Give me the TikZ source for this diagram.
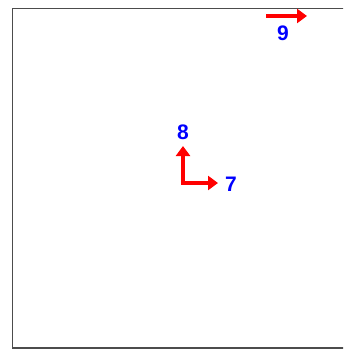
\documentclass[tikz,border=0pt]{standalone}
\usepackage{fontspec}
\setmainfont{Liberation Sans}
\usetikzlibrary{arrows.meta}
\begin{document}
\begin{tikzpicture}[x=1pt,y=-1pt,
  vec/.style={draw=red, line width=4.5pt, -{Triangle[width=14pt,length=10pt]}},
  lab/.style={text=blue, font=\bfseries\fontsize{21}{21}\selectfont, inner sep=0pt}]
\useasboundingbox (0,0) rectangle (343,350);
\clip (0,0) rectangle (343,350);
\fill[white] (0,0) rectangle (343,350);
\draw[draw=black!70, line width=1.5pt] (12.5,8.5) rectangle (350,348);
\coordinate (o) at (183,183);
\coordinate (a7) at (218,183);
\coordinate (a8) at (183,146);
\coordinate (s9) at (266,16);
\coordinate (a9) at (307,16);
\draw[vec] ([yshift=2.25pt]o) -- (a8);
\draw[vec] ([xshift=-2.25pt]o) -- (a7);
\draw[vec] (s9) -- (a9);
\node[lab] (l7) at (231,184) {7};
\node[lab] (l8) at (183,132) {8};
\node[lab] (l9) at (283,33) {9};
\end{tikzpicture}
\end{document}
